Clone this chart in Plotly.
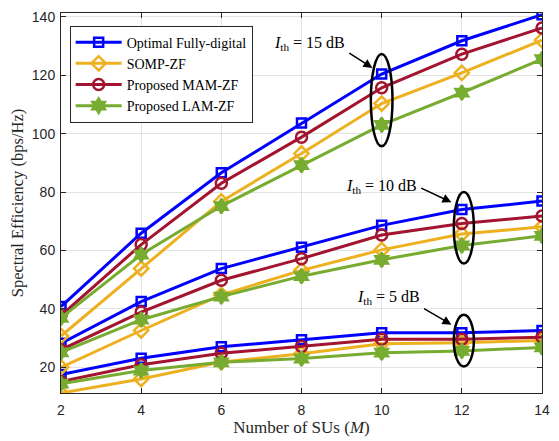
import plotly.graph_objects as go

M = [2, 4, 6, 8, 10, 12, 14]

# Spectral efficiency (bps/Hz) for I_th = 15, 10, 5 dB
opt_15 = [40.8, 65.9, 86.6, 103.6, 120.4, 131.8, 140.7]
opt_10 = [28.2, 42.5, 53.8, 61.1, 68.6, 74.0, 76.9]
opt_5 = [17.5, 23.1, 27.0, 29.4, 31.8, 31.8, 32.6]

somp_15 = [30.7, 53.8, 76.8, 93.2, 110.3, 120.8, 132.0]
somp_10 = [20.0, 32.6, 44.8, 53.2, 60.2, 65.6, 68.1]
somp_5 = [11.2, 16.0, 21.8, 24.6, 28.1, 28.4, 29.2]

mam_15 = [37.7, 62.0, 83.0, 98.8, 115.7, 127.2, 136.2]
mam_10 = [26.0, 38.9, 49.8, 57.2, 65.3, 69.2, 71.8]
mam_5 = [15.1, 20.9, 24.8, 27.1, 29.6, 29.6, 30.3]

lam_15 = [36.9, 58.6, 75.2, 89.2, 103.0, 114.0, 125.5]
lam_10 = [25.1, 36.3, 44.2, 51.2, 56.8, 61.7, 65.0]
lam_5 = [14.4, 18.9, 21.7, 23.0, 25.0, 25.6, 26.8]

names = ["Optimal Fully-digital", "SOMP-ZF", "Proposed MAM-ZF", "Proposed LAM-ZF"]
series = [
    [opt_15, opt_10, opt_5],
    [somp_15, somp_10, somp_5],
    [mam_15, mam_10, mam_5],
    [lam_15, lam_10, lam_5],
]
colors = ["#0000FF", "#EDB120", "#A2142F", "#77AC30"]
symbols = ["square-open", "diamond-open", "circle-open", "hexagram"]
msizes = [9, 11, 11, 11]

fig = go.Figure()
for name, grp, c, s, ms in zip(names, series, colors, symbols, msizes):
    for k, ys in enumerate(grp):
        fig.add_trace(go.Scatter(
            x=M, y=ys, mode="lines+markers", name=name,
            showlegend=(k == 0),
            line=dict(color=c, width=3),
            marker=dict(symbol=s, size=ms, color=c,
                        line=dict(color=c, width=2.5)),
        ))

serif = "Liberation Serif"
# ellipses
for x0, x1, y0, y1 in [(9.73, 10.27, 95.7, 127.3), (11.8, 12.3, 55.5, 80.0), (11.8, 12.3, 20.3, 38.0)]:
    fig.add_shape(type="circle", xref="x", yref="y", x0=x0, x1=x1, y0=y0, y1=y1,
                  line=dict(color="black", width=2.5))

labels = [("<i>I</i><sub>th</sub> = 15 dB", 8.21, 130.7),
          ("<i>I</i><sub>th</sub> = 10 dB", 10.0, 81.9),
          ("<i>I</i><sub>th</sub> = 5 dB", 10.16, 44.0)]
for t, x, y in labels:
    fig.add_annotation(x=x, y=y, text=t, showarrow=False,
                       font=dict(family=serif, size=16, color="black"))
for ax_, ay_, x, y in [(9.155, 127.9, 9.77, 122.5), (10.95, 81.6, 11.74, 76.5), (11.02, 40.4, 11.74, 34.6)]:
    fig.add_annotation(x=x, y=y, ax=ax_, ay=ay_, axref="x", ayref="y", text="",
                       showarrow=True, arrowhead=2, arrowsize=1.2, arrowwidth=1.5,
                       arrowcolor="black")

axis_common = dict(
    showline=True, linecolor="#262626", linewidth=1, mirror="allticks",
    ticks="inside", ticklen=5, tickcolor="#262626",
    showgrid=True, gridcolor="#E3E3E3", gridwidth=1, zeroline=False,
    tickfont=dict(family="Liberation Sans", size=14, color="#262626"),
)
fig.update_xaxes(range=[2, 14], tickvals=M, ticklabelstandoff=4,
                 title=dict(text="Number of SUs (<i>M</i>)", standoff=2,
                            font=dict(family=serif, size=17, color="#262626")),
                 **axis_common)
fig.update_yaxes(range=[11.2, 141.3], tickvals=[20, 40, 60, 80, 100, 120, 140],
                 ticklabelstandoff=2,
                 title=dict(text="Spectral Efficiency (bps/Hz)", standoff=4,
                            font=dict(family=serif, size=16.5, color="#262626")),
                 **axis_common)

fig.update_layout(
    width=559, height=441,
    margin=dict(l=61, r=10, t=9, b=47),
    plot_bgcolor="white", paper_bgcolor="white",
    legend=dict(x=0.018, y=0.967, xanchor="left", yanchor="top",
                bgcolor="white", bordercolor="#262626", borderwidth=1,
                font=dict(family=serif, size=14, color="black"),
                itemwidth=46, tracegroupgap=0),
)

fig.write_html("out.html")
